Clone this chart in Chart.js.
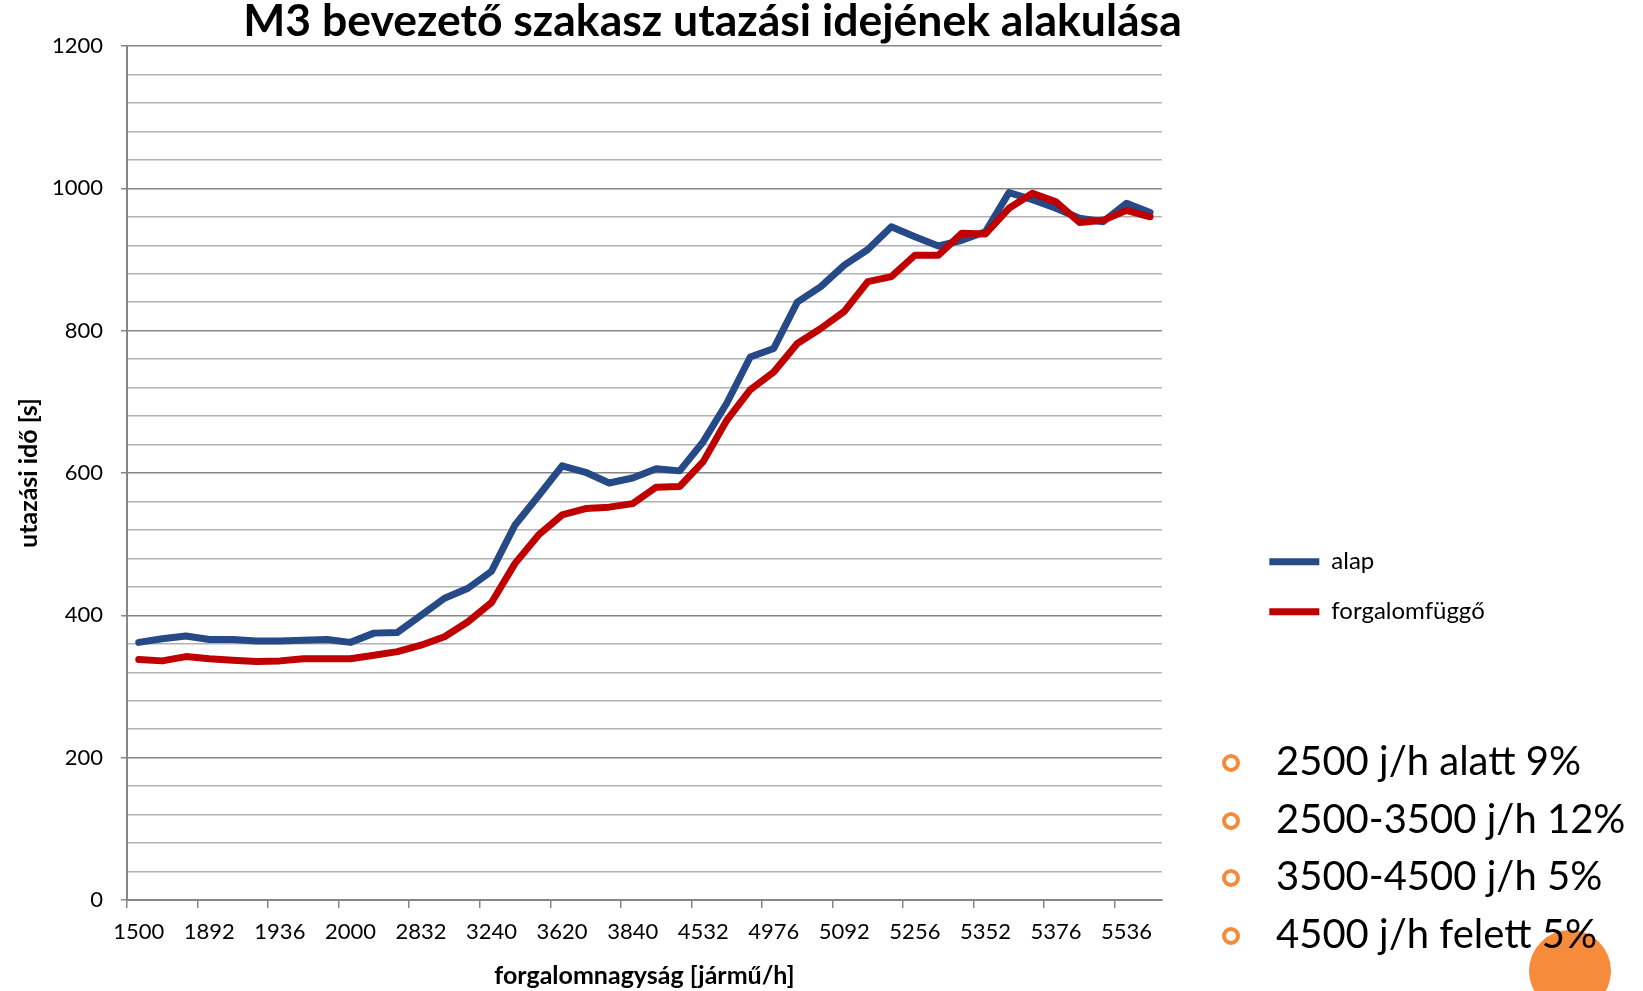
<!DOCTYPE html>
<html>
<head>
<meta charset="utf-8">
<script src="https://cdn.jsdelivr.net/npm/chart.js@4.4.1/dist/chart.umd.min.js"></script>
<style>
    body { margin: 0; background: #fff; }
    #wrap { position: relative; width: 1643px; height: 991px; overflow: hidden; }
    #chart { position: absolute; left: 0; top: 0; }
    #title {
        position: absolute; left: 0; top: -3px; width: 1425px;
        text-align: center; font: bold 44.5px Lato, sans-serif; line-height: 44px; color: #000;
    }
    #notes { position: absolute; left: 1276px; top: 732px; font: 40px Lato, sans-serif; color: #000; }
    #notes div { position: relative; height: 57.5px; line-height: 57.5px; white-space: nowrap; }
    #notes span {
        position: absolute; left: -54px; top: 22px; width: 10px; height: 10px;
        border: 4px solid #f58a3a; border-radius: 50%;
    }
    #blob { position: absolute; left: 1529px; top: 930px; width: 82px; height: 82px; border-radius: 50%; background: #f78b3c; }
</style>
</head>
<body>
<div id="wrap">
    <canvas id="chart" width="1643" height="991"></canvas>
    <div id="blob"></div>
    <div id="title">M3 bevezető szakasz utazási idejének alakulása</div>
    <div id="notes">
        <div><span></span>2500 j/h alatt 9%</div>
        <div><span></span>2500-3500 j/h 12%</div>
        <div><span></span>3500-4500 j/h 5%</div>
        <div><span></span>4500 j/h felett 5%</div>
    </div>
</div>
<script>

// tengely feliratok (minden 3. kategória kap feliratot)
const tickLabels = ['1500', '1892', '1936', '2000', '2832', '3240', '3620', '3840',
    '4532', '4976', '5092', '5256', '5352', '5376', '5536'];

// utazási idő [s]
const alap = [362, 367, 371, 366, 366, 364, 364, 365, 366, 362, 375, 376,
    400, 424, 438, 462, 527, 568, 610, 601, 586, 593, 606, 603,
    644, 698, 763, 775, 840, 862, 892, 914, 946, 932, 919, 927,
    939, 994, 984, 972, 958, 953, 979, 966];

const forgalomfuggo = [338, 336, 342, 339, 337, 335, 336, 339, 339, 339, 344, 349,
    358, 370, 391, 418, 473, 513, 541, 550, 552, 557, 580, 581,
    616, 674, 717, 742, 782, 803, 827, 869, 876, 906, 906, 937,
    936, 972, 993, 981, 952, 955, 969, 960];

const kategoriak = alap.map((_, i) => i % 3 === 0 ? tickLabels[i / 3] : '');

const FONT = 'Lato';
const MAJOR = '#868686';
const MINOR = '#b2b2b2';

new Chart(document.getElementById('chart'), {
    type: 'line',
    data: {
        labels: kategoriak,
        datasets: [
            {
                label: 'alap',
                data: alap,
                borderColor: '#254a87',
                backgroundColor: '#254a87',
                borderWidth: 7,
                borderCapStyle: 'round',
                borderJoinStyle: 'round',
                pointRadius: 0,
                pointStyle: 'line',
                order: 1
            },
            {
                label: 'forgalomfüggő',
                data: forgalomfuggo,
                borderColor: '#c00000',
                backgroundColor: '#c00000',
                borderWidth: 7,
                borderCapStyle: 'round',
                borderJoinStyle: 'round',
                pointRadius: 0,
                pointStyle: 'line',
                order: 0
            }
        ]
    },
    options: {
        responsive: false,
        animation: false,
        layout: {
            padding: { top: 46, right: 151, bottom: 0, left: 0 }
        },
        plugins: {
            title: { display: false },
            tooltip: { enabled: false },
            legend: {
                position: 'right',
                title: { display: true, text: ' ', padding: { top: 122, bottom: 0 } },
                labels: {
                    usePointStyle: true,
                    pointStyle: 'line',
                    pointStyleWidth: 50,
                    padding: 26,
                    color: '#000',
                    font: { family: FONT, size: 24 },
                    sort: (a, b) => a.datasetIndex - b.datasetIndex
                }
            }
        },
        scales: {
            x: {
                offset: true,
                afterFit: s => { s.height = 91; },
                border: { color: MAJOR, width: 2 },
                grid: {
                    offset: true,
                    drawOnChartArea: false,
                    tickLength: 8,
                    lineWidth: 1.5,
                    color: c => (c.index !== undefined && c.index % 3 === 0) ? MAJOR : 'rgba(0,0,0,0)'
                },
                ticks: {
                    autoSkip: false,
                    maxRotation: 0,
                    padding: 11,
                    color: '#000',
                    font: { family: FONT, size: 22 }
                },
                title: {
                    display: true,
                    text: 'forgalomnagyság [jármű/h]',
                    color: '#000',
                    font: { family: FONT, size: 25, weight: 'bold' },
                    padding: { top: 0, bottom: 0 }
                }
            },
            y: {
                min: 0,
                max: 1200,
                afterFit: s => { s.width = 127; },
                border: { color: MAJOR, width: 2 },
                grid: {
                    lineWidth: 1.5,
                    tickLength: 6,
                    color: c => c.tick.value % 200 === 0 ? MAJOR : MINOR,
                    tickColor: c => c.tick.value % 200 === 0 ? MAJOR : 'rgba(0,0,0,0)'
                },
                ticks: {
                    stepSize: 40,
                    autoSkip: false,
                    padding: 18,
                    color: '#000',
                    font: { family: FONT, size: 22 },
                    callback: v => v % 200 === 0 ? v : ''
                },
                title: {
                    display: true,
                    text: 'utazási idő [s]',
                    color: '#000',
                    font: { family: FONT, size: 25, weight: 'bold' },
                    padding: { top: 14, bottom: 0 }
                }
            },
            // üres tengely a jelmagyarázat eltolásához
            y2: {
                position: 'right',
                display: true,
                afterFit: s => { s.width = 81.5; },
                border: { display: false },
                grid: { display: false, drawTicks: false },
                ticks: { display: false }
            }
        }
    }
});

</script>
</body>
</html>
